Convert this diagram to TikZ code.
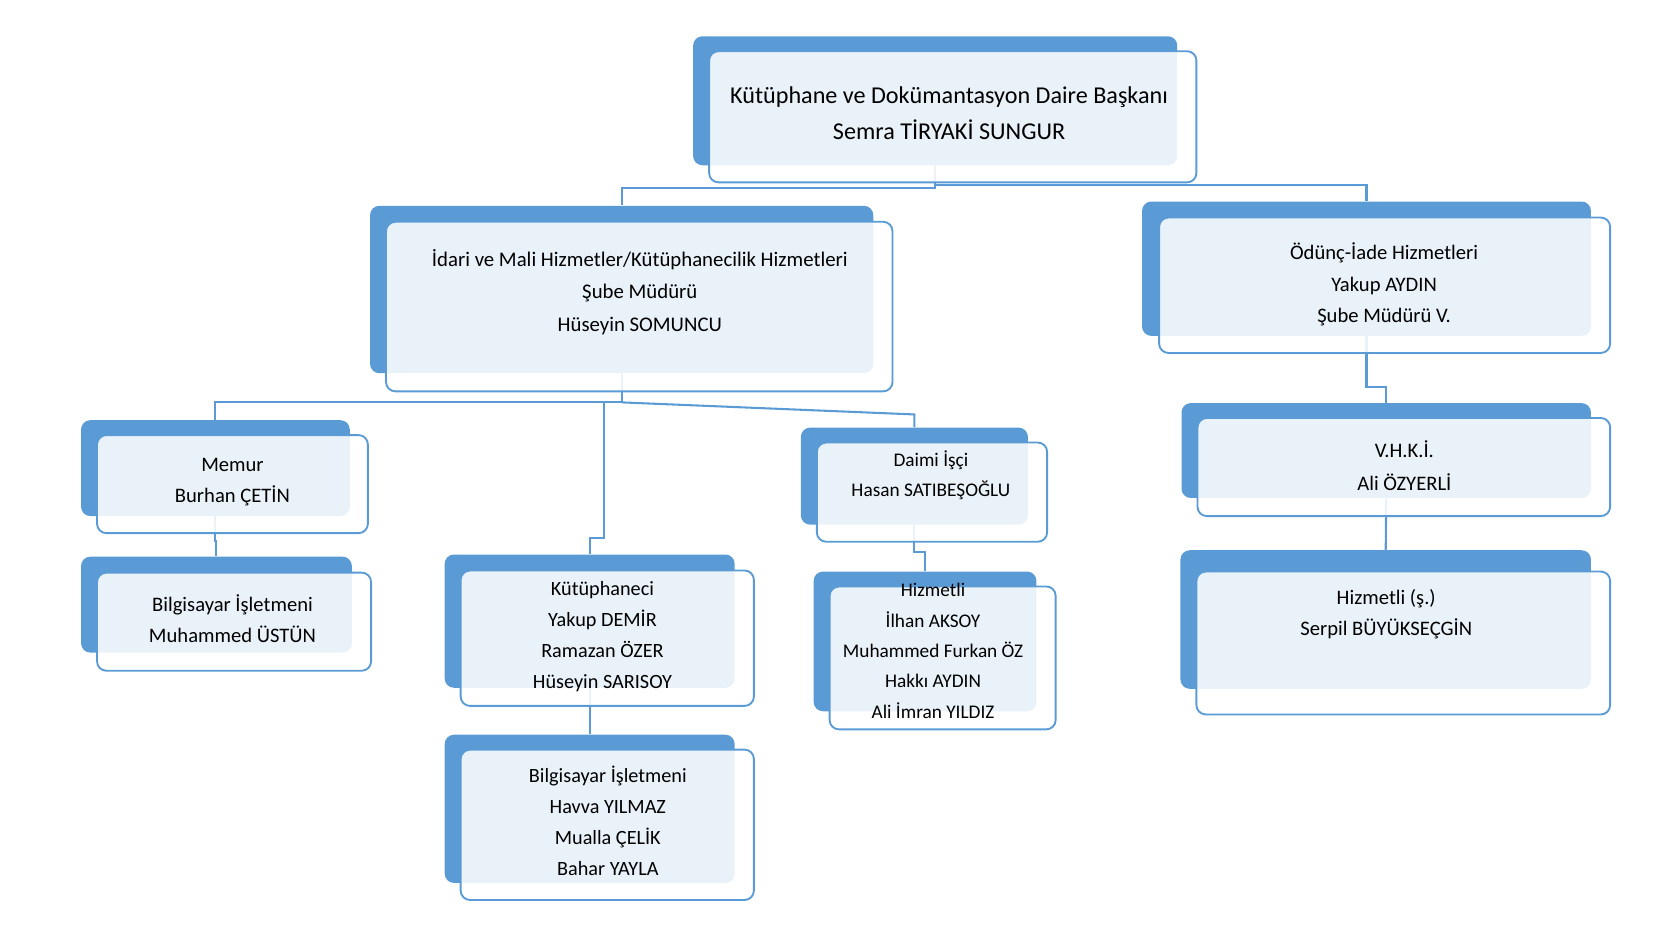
\documentclass[tikz,border=0pt]{standalone}
\usepackage{fontspec}
\setmainfont{Carlito}
\usepackage{tikz}
\usetikzlibrary{fit,calc}
\definecolor{boxblue}{RGB}{91,155,213}

\begin{document}
\begin{tikzpicture}%
  [x=0.02cm,y=-0.02cm]
  \tikzstyle{back node}=[rectangle,rounded corners=5pt,fill=boxblue,inner sep=0]
  \tikzstyle{front node}=[rectangle,rounded corners=5pt,draw=boxblue,line width=1pt,
    fill=white,fill opacity=0.87,inner sep=0]
  \tikzstyle{name text}=[align=center,inner sep=0,font=\fontsize{11}{16.8}\selectfont]
  \tikzstyle{small text}=[name text,font=\fontsize{10.3}{16.2}\selectfont]
  \tikzstyle{link}=[draw=boxblue,line width=1.1pt]
  \useasboundingbox (0,0) rectangle (1568,882.4);
  % back boxes
  \node(topb)[back node,fit={(650,34) (1104,155)}]{};
  \node(idarib)[back node,fit={(347,193) (819,350)}]{};
  \node(odb)[back node,fit={(1071,189) (1492,315)}]{};
  \node(memurb)[back node,fit={(76,394) (328,484)}]{};
  \node(bilgab)[back node,fit={(76,522) (330,612)}]{};
  \node(kutb)[back node,fit={(417,520) (689,645)}]{};
  \node(bilgbb)[back node,fit={(417,689) (689,828)}]{};
  \node(daimib)[back node,fit={(751,401) (964,492)}]{};
  \node(hizb)[back node,fit={(763,536) (972,667)}]{};
  \node(vhkib)[back node,fit={(1108,378) (1492,467)}]{};
  \node(hizsb)[back node,fit={(1107,516) (1492,646)}]{};
  % connectors
  \coordinate(idj) at ($(idarib.south)+(0,27)$);
  \coordinate(idm) at (566,377);
  \draw[link] (topb.south) -- ++(0,21) -| (idarib.north);
  \draw[link] (topb.south) -- ++(0,18) -| (odb.north);
  \draw[link] (idarib.south) -- (idj) -| (memurb.north);
  \draw[link] (idm) |- ($(kutb.north)+(0,-15)$) -- (kutb.north);
  \draw[link] (idj) -- ($(daimib.north)+(0,-12)$) -- (daimib.north);
  \draw[link] (memurb.south) |- ($(bilgab.north)+(0,-14)$) -- (bilgab.north);
  \draw[link] (kutb.south) |- ($(bilgbb.north)+(0,-16)$) -- (bilgbb.north);
  \draw[link] (daimib.south) |- ($(hizb.north)+(0,-18)$) -- (hizb.north);
  \draw[link] (odb.south) |- ($(vhkib.north)+(0,-15)$) -- (vhkib.north);
  \draw[link] (vhkib.south) -- (hizsb.north);
  % front boxes
  \node(top)[front node,fit={(665,48) (1122,171)}]{};
  \node(idari)[front node,fit={(362,208) (837,367)}]{};
  \node(od)[front node,fit={(1087,204) (1510,331)}]{};
  \node(memur)[front node,fit={(91,408) (345,500)}]{};
  \node(bilga)[front node,fit={(91,537) (348,629)}]{};
  \node(kut)[front node,fit={(432,535) (707,662)}]{};
  \node(bilgb)[front node,fit={(432,703) (707,844)}]{};
  \node(daimi)[front node,fit={(766,415) (982,508)}]{};
  \node(hiz)[front node,fit={(778,550) (990,684)}]{};
  \node(vhki)[front node,fit={(1123,392) (1510,484)}]{};
  \node(hizs)[front node,fit={(1122,536) (1510,670)}]{};
  % texts
  \node(top text)[name text,font=\fontsize{12.9}{19.3}\selectfont] at (890,106)
    {Kütüphane ve Dokümantasyon Daire Başkanı\\Semra TİRYAKİ SUNGUR};
  \node(idari text)[name text,font=\fontsize{11.1}{17.5}\selectfont] at (600,274)
    {İdari ve Mali Hizmetler/Kütüphanecilik Hizmetleri\\Şube Müdürü\\Hüseyin SOMUNCU};
  \node(od text)[name text] at (1298,267)
    {Ödünç-İade Hizmetleri\\Yakup AYDIN\\Şube Müdürü V.};
  \node(memur text)[name text] at (218,452) {Memur\\Burhan ÇETİN};
  \node(bilga text)[name text] at (218,580) {Bilgisayar İşletmeni\\Muhammed ÜSTÜN};
  \node(kut text)[name text,font=\fontsize{10.8}{16.5}\selectfont] at (565,597)
    {Kütüphaneci\\Yakup DEMİR\\Ramazan ÖZER\\Hüseyin SARISOY};
  \node(bilgb text)[name text,font=\fontsize{10.8}{16.6}\selectfont] at (570,769.5)
    {Bilgisayar İşletmeni\\Havva YILMAZ\\Mualla ÇELİK\\Bahar YAYLA};
  \node(daimi text)[small text,font=\fontsize{10.3}{15.9}\selectfont] at (873,446)
    {Daimi İşçi\\Hasan SATIBEŞOĞLU};
  \node(hiz text)[small text] at (875,610.5)
    {Hizmetli\\İlhan AKSOY\\Muhammed Furkan ÖZ\\Hakkı AYDIN\\Ali İmran YILDIZ};
  \node(vhki text)[name text,font=\fontsize{11}{17.5}\selectfont] at (1317,437)
    {V.H.K.İ.\\Ali ÖZYERLİ};
  \node(hizs text)[name text] at (1300,576) {Hizmetli (ş.)\\Serpil BÜYÜKSEÇGİN};
\end{tikzpicture}
\end{document}
